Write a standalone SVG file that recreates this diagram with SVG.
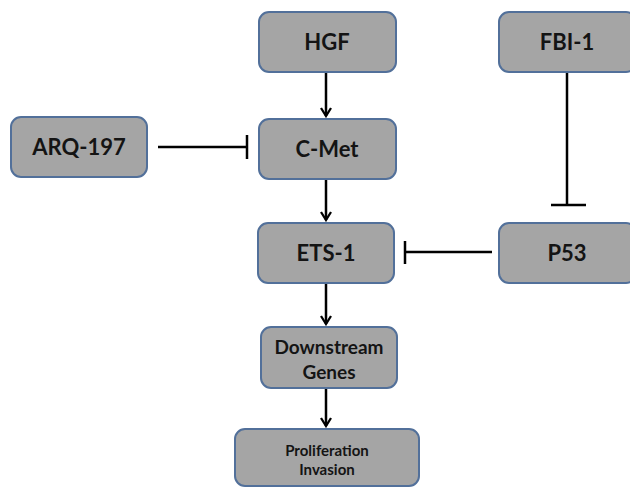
<svg xmlns="http://www.w3.org/2000/svg" width="630" height="488" viewBox="0 0 630 488">
<defs>
<style>
.box{fill:#a5a5a5;stroke:#52709a;stroke-width:2}
.t{font-family:Lato,"Liberation Sans",sans-serif;font-weight:bold;fill:#141414;text-anchor:middle}
.big{font-size:22px}
.mid{font-size:19px}
.sm{font-size:15px}
.ln{stroke:#000;stroke-width:2.5;fill:none}
</style>
<marker id="arr" viewBox="0 0 12 12" refX="10" refY="6" markerWidth="12" markerHeight="12" markerUnits="userSpaceOnUse" orient="auto">
<path d="M2,1 L10,6 L2,11" fill="none" stroke="#000" stroke-width="2.3"/>
</marker>
</defs>
<rect width="630" height="488" fill="#fff"/>
<g id="connectors">
<line class="ln" x1="326" y1="73" x2="326" y2="116" marker-end="url(#arr)"/>
<line class="ln" x1="326" y1="180" x2="326" y2="220" marker-end="url(#arr)"/>
<line class="ln" x1="326" y1="284" x2="326" y2="324" marker-end="url(#arr)"/>
<line class="ln" x1="326" y1="389" x2="326" y2="426" marker-end="url(#arr)"/>
<line class="ln" x1="158" y1="147" x2="247" y2="147"/>
<line class="ln" x1="247" y1="135" x2="247" y2="159"/>
<line class="ln" x1="492" y1="252" x2="405" y2="252"/>
<line class="ln" x1="405" y1="241" x2="405" y2="264"/>
<line class="ln" x1="567" y1="73" x2="567" y2="205"/>
<line class="ln" x1="551" y1="205" x2="586" y2="205"/>
</g>
<g id="hgf"><rect class="box" x="259" y="12" width="137" height="60" rx="10"/><text class="t big" x="327" y="50">HGF</text></g>
<g id="fbi1"><rect class="box" x="499" y="12" width="137" height="60" rx="10"/><text class="t big" x="567" y="50">FBI-1</text></g>
<g id="arq197"><rect class="box" x="11" y="117" width="136" height="60" rx="10"/><text class="t big" x="79" y="155">ARQ-197</text></g>
<g id="cmet"><rect class="box" x="259" y="119" width="137" height="60" rx="10"/><text class="t big" x="327" y="157">C-Met</text></g>
<g id="ets1"><rect class="box" x="258" y="223" width="136" height="60" rx="10"/><text class="t big" x="326" y="261">ETS-1</text></g>
<g id="p53"><rect class="box" x="499" y="223" width="137" height="60" rx="10"/><text class="t big" x="567" y="261">P53</text></g>
<g id="downstream"><rect class="box" x="261" y="327" width="136" height="61" rx="10"/><text class="t mid" x="329" y="354">Downstream</text><text class="t mid" x="329" y="379">Genes</text></g>
<g id="proliferation"><rect class="box" x="235" y="429" width="184" height="57" rx="10"/><text class="t sm" x="327" y="456">Proliferation</text><text class="t sm" x="327" y="475">Invasion</text></g>
</svg>
